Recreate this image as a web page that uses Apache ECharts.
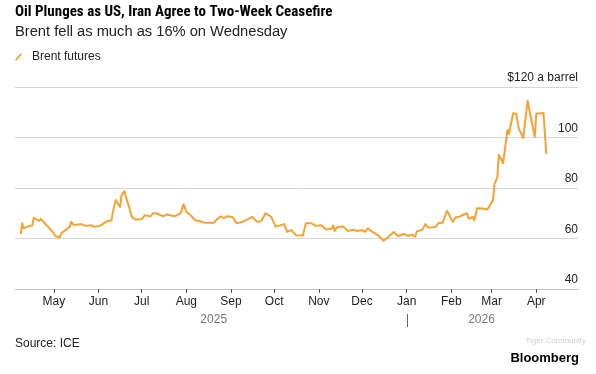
<!DOCTYPE html>
<html>
<head>
<meta charset="utf-8">
<script src="https://cdn.jsdelivr.net/npm/echarts@6/dist/echarts.min.js"></script>
<style>
html,body{margin:0;padding:0;background:#fff;}
#c{width:596px;height:374px;}
</style>
</head>
<body>
<div id="c"></div>
<script>
const dates = [
'2025-04-08','2025-04-09','2025-04-10','2025-04-14','2025-04-16','2025-04-17','2025-04-21','2025-04-22','2025-04-24','2025-04-25',
'2025-04-28','2025-05-01','2025-05-02','2025-05-05','2025-05-06','2025-05-09','2025-05-12','2025-05-13','2025-05-15','2025-05-20',
'2025-05-23','2025-05-27','2025-05-30','2025-06-03','2025-06-06','2025-06-10','2025-06-11','2025-06-13','2025-06-16','2025-06-17',
'2025-06-19','2025-06-20','2025-06-23','2025-06-24','2025-06-27','2025-07-01','2025-07-03','2025-07-07','2025-07-09','2025-07-10',
'2025-07-11','2025-07-16','2025-07-18','2025-07-24','2025-07-28','2025-07-30','2025-08-01','2025-08-04','2025-08-07','2025-08-11',
'2025-08-14','2025-08-15','2025-08-20','2025-08-22','2025-08-25','2025-08-27','2025-08-29','2025-09-02','2025-09-05','2025-09-09',
'2025-09-12','2025-09-16','2025-09-19','2025-09-22','2025-09-25','2025-09-29','2025-10-02','2025-10-08','2025-10-10','2025-10-13',
'2025-10-16','2025-10-21','2025-10-23','2025-10-27','2025-10-30','2025-11-03','2025-11-06','2025-11-10','2025-11-11','2025-11-12',
'2025-11-14','2025-11-18','2025-11-21','2025-11-25','2025-11-27','2025-12-01','2025-12-03','2025-12-05','2025-12-08','2025-12-12',
'2025-12-16','2025-12-19','2025-12-23','2025-12-26','2025-12-30','2026-01-02','2026-01-05','2026-01-07','2026-01-08','2026-01-12',
'2026-01-14','2026-01-16','2026-01-19','2026-01-21','2026-01-23','2026-01-26','2026-01-27','2026-01-29','2026-01-30','2026-02-02',
'2026-02-04','2026-02-06','2026-02-09','2026-02-12','2026-02-13','2026-02-16','2026-02-17','2026-02-19','2026-02-23','2026-02-26',
'2026-03-02','2026-03-03','2026-03-05','2026-03-06','2026-03-09','2026-03-12','2026-03-13','2026-03-16','2026-03-18','2026-03-20',
'2026-03-23','2026-03-26','2026-03-27','2026-03-31','2026-04-01','2026-04-06','2026-04-08'
];
const brent = [
61.7,66.0,64.0,65.0,65.2,68.2,67.0,67.8,66.5,66.0,
64.0,62.0,61.0,60.4,62.0,63.3,64.7,66.6,65.3,65.7,
65.0,65.2,64.6,65.3,66.6,67.2,70.6,75.2,72.5,77.2,
78.8,76.5,71.0,68.6,67.5,67.7,69.2,68.8,70.0,70.6,
70.0,68.8,69.5,68.8,70.0,73.6,70.6,69.2,67.3,66.7,
66.2,66.8,66.2,67.5,68.8,68.0,68.8,68.5,66.0,66.6,
67.5,68.6,66.6,66.8,70.0,68.6,64.7,65.7,62.6,63.3,
61.3,61.2,66.0,66.0,65.0,65.2,63.6,64.0,65.2,63.0,
64.6,64.8,63.0,63.5,63.0,63.3,62.6,64.0,62.7,61.3,
59.1,60.5,62.6,61.0,61.8,61.0,61.5,60.7,62.8,63.5,
65.7,64.4,64.5,64.6,66.1,66.2,65.5,71.0,70.0,66.6,
68.4,68.5,69.3,70.0,67.8,68.5,67.2,72.0,71.9,71.5,
75.2,81.5,84.3,93.2,89.9,103.0,101.4,109.6,109.4,103.4,
99.8,114.6,111.6,100.3,109.4,109.7,93.4
];
const monthTicks = ['2025-05-01','2025-06-01','2025-07-01','2025-08-01','2025-09-01','2025-10-01','2025-11-01','2025-12-01','2026-01-01','2026-02-01','2026-03-01','2026-04-01'];
const monthNames = ['Jan','Feb','Mar','Apr','May','Jun','Jul','Aug','Sep','Oct','Nov','Dec'];
const yTicks = [40, 60, 80, 100, 120];
const yearLabels = [{text:'2025', at:'2025-08-20'}, {text:'2026', at:'2026-02-22'}];
const yearBreak = '2026-01-01';

function ts(s){ const p = s.split('-').map(Number); return new Date(p[0], p[1]-1, p[2]).getTime(); }

const FONT = '"Liberation Sans", Arial, sans-serif';
const TITLE_FONT = '"Liberation Sans Narrow", "Roboto Condensed", "Liberation Sans", Arial, sans-serif';
const chart = echarts.init(document.getElementById('c'), null, {renderer:'canvas'});
const tickVals = monthTicks.map(ts);

chart.setOption({
  animation: false,
  backgroundColor: '#fff',
  textStyle: {fontFamily: FONT},
  title: {
    left: 15, top: 5, padding: 0,
    text: 'Oil Plunges as US, Iran Agree to Two-Week Ceasefire',
    subtext: 'Brent fell as much as 16% on Wednesday',
    itemGap: 4,
    textStyle: {fontFamily: TITLE_FONT, fontSize: 15, fontWeight: 'bold', color: '#000'},
    subtextStyle: {fontFamily: FONT, fontSize: 14.7, color: '#222'}
  },
  legend: {
    left: 15, top: 51, padding: 0,
    itemWidth: 7, itemHeight: 8, itemGap: 10,
    icon: 'path://M0,8.5 L7,1 L8.5,2.5 L1.5,10 Z',
    textStyle: {fontFamily: FONT, fontSize: 12, color: '#222', padding: [0,0,0,5]},
    data: [{name: 'Brent futures', itemStyle: {color: '#F5A234'}}]
  },
  grid: {left: 15, right: 18, top: 87, bottom: 85, containLabel: false},
  xAxis: {
    type: 'value',
    min: ts('2025-04-04'), max: ts('2026-04-30'),
    axisLine: {show: true, lineStyle: {color: '#c8c8c8', width: 1}},
    axisTick: {show: true, customValues: tickVals, length: 4, lineStyle: {color: '#555', width: 1}},
    axisLabel: {
      customValues: tickVals,
      formatter: function(v){ return monthNames[new Date(v).getMonth()]; },
      fontFamily: FONT, fontSize: 12, color: '#222', margin: 7
    },
    splitLine: {show: false}
  },
  yAxis: {
    type: 'value', position: 'right',
    min: 40, max: 120, interval: 20,
    axisLine: {show: false}, axisTick: {show: false},
    splitLine: {show: true, lineStyle: {color: '#d6d6d6', width: 1}},
    axisLabel: {
      inside: true, margin: 0,
      verticalAlign: 'bottom',
      padding: [0, 0, 3, 0],
      fontFamily: FONT, fontSize: 12, color: '#222',
      formatter: function(v){ return v === 120 ? '$120 a barrel' : String(v); }
    }
  },
  series: [{
    name: 'Brent futures',
    type: 'line',
    data: dates.map((d, i) => [ts(d), brent[i]]),
    showSymbol: false, symbol: 'none',
    lineStyle: {color: '#F5A234', width: 2, join: 'round'},
    itemStyle: {color: '#F5A234'}
  }]
});

const g = [];
yearLabels.forEach(function(y){
  const x = chart.convertToPixel({xAxisIndex: 0}, ts(y.at));
  g.push({type: 'text', x: x, y: 320, style: {text: y.text, fill: '#777', font: '12px ' + FONT, textAlign: 'center', textVerticalAlign: 'middle'}});
});
const xb = Math.round(chart.convertToPixel({xAxisIndex: 0}, ts(yearBreak))) + 0.5;
g.push({type: 'line', shape: {x1: xb, y1: 314, x2: xb, y2: 327}, style: {stroke: '#666', lineWidth: 1}});
g.push({type: 'text', x: 15, y: 344, style: {text: 'Source: ICE', fill: '#222', font: '12px ' + FONT, textVerticalAlign: 'middle'}});
g.push({type: 'text', x: 579, y: 358, style: {text: 'Bloomberg', fill: '#000', font: 'bold 13px ' + FONT, textAlign: 'right', textVerticalAlign: 'middle'}});
g.push({type: 'text', x: 586, y: 341, style: {text: 'Tiger Community', fill: '#cfcfcf', font: '8px ' + FONT, textAlign: 'right', textVerticalAlign: 'middle'}});
chart.setOption({graphic: g});
</script>
</body>
</html>
